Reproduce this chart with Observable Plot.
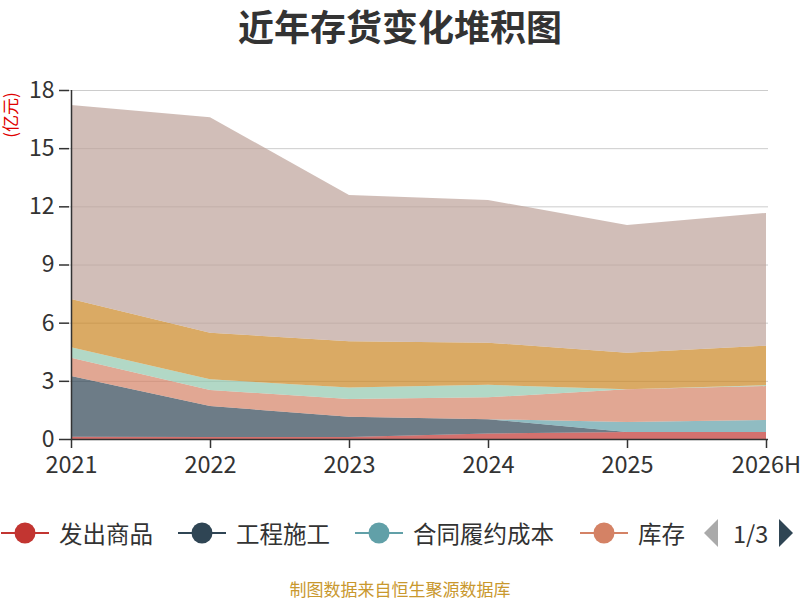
<!DOCTYPE html>
<html>
<head>
<meta charset="utf-8">
<script src="https://cdn.jsdelivr.net/npm/d3@7"></script>
<script src="https://cdn.jsdelivr.net/npm/@observablehq/plot@0.6"></script>
<style>
  html, body { margin: 0; padding: 0; background: #fff; }
  #wrap { position: relative; width: 800px; height: 600px; overflow: hidden; font-family: "Noto Sans CJK SC", "Noto Sans", sans-serif; color: #333; }
  #title { position: absolute; top: 0px; left: 0; width: 800px; text-align: center; font-size: 36px; font-weight: bold; color: #333; line-height: 50px; }
  #chart { position: absolute; top: 50px; left: 0; }
  #ylabel { position: absolute; left: -20px; top: 106px; transform: rotate(-90deg); transform-origin: center; font-size: 17px; color: #e00000; width: 60px; text-align: center; line-height: 18px; }
  .leg { position: absolute; top: 518px; height: 30px; display: flex; align-items: center; font-size: 23.5px; color: #333; white-space: nowrap; }
  .leg svg { margin-right: 10px; }
  #caption { position: absolute; top: 579px; left: 0; width: 800px; text-align: center; font-size: 17px; line-height: 20px; color: #c9982e; }
</style>
</head>
<body>
<div id="wrap">
  <div id="title">近年存货变化堆积图</div>
  <div id="ylabel">(亿元)</div>
  <div id="chart"></div>
  <div id="legend"></div>
  <div id="caption">制图数据来自恒生聚源数据库</div>
</div>
<script>
const years = ["2021", "2022", "2023", "2024", "2025", "2026H"];
const seriesNames = ["发出商品", "工程施工", "合同履约成本", "库存", "原材料", "在产品", "库存商品", "其他"];
const colors = ["#c23531", "#2f4554", "#61a0a8", "#d48265", "#91c7ae", "#749f83", "#ca8622", "#bda29a"];
const yTicks = [0, 3, 6, 9, 12, 15, 18];

const fachushangpin   = [0.12, 0.10, 0.10, 0.28, 0.36, 0.36];
const gongchengshigong = [3.13, 1.60, 1.05, 0.74, 0.00, 0.00];
const hetonglvyue     = [0.00, 0.00, 0.00, 0.00, 0.52, 0.62];
const kucun           = [0.94, 0.83, 0.91, 1.13, 1.68, 1.75];
const yuancailiao     = [0.54, 0.55, 0.59, 0.65, 0.00, 0.05];
const zaichanpin      = [0.00, 0.00, 0.00, 0.00, 0.00, 0.00];
const kucunshangpin   = [2.49, 2.40, 2.39, 2.17, 1.89, 2.03];
const qita            = [10.01, 11.12, 7.54, 7.36, 6.59, 6.85];

const seriesValues = [fachushangpin, gongchengshigong, hetonglvyue, kucun, yuancailiao, zaichanpin, kucunshangpin, qita];

const rows = [];
seriesNames.forEach((name, i) => {
  years.forEach((yr, j) => rows.push({ year: yr, series: name, value: seriesValues[i][j] }));
});

const chart = Plot.plot({
  width: 800,
  height: 430,
  marginTop: 40,
  marginBottom: 41,
  marginLeft: 69,
  marginRight: 32,
  style: { fontFamily: '"Noto Sans CJK SC", "Noto Sans", sans-serif', background: "transparent", color: "#333" },
  x: { type: "point", domain: years, padding: 0, label: null },
  y: { domain: [0, 18], label: null },
  color: { domain: seriesNames, range: colors },
  marks: [
    Plot.gridY(yTicks, { stroke: "#cccccc", strokeOpacity: 1, strokeWidth: 1 }),
    Plot.areaY(rows, { x: "year", y: "value", fill: "series", fillOpacity: 0.7, order: seriesNames, curve: "linear" }),
    Plot.ruleY([0], { stroke: "#333", strokeWidth: 1.5 }),
    Plot.ruleX([years[0]], { stroke: "#333", strokeWidth: 1.5 }),
    Plot.axisY(yTicks, { tickSize: 10, tickPadding: 5, fontSize: 23, fill: "#333", stroke: "#333", strokeWidth: 1.5, label: null }),
    Plot.axisX({ tickSize: 9, tickPadding: 8, fontSize: 23.5, fill: "#333", stroke: "#333", strokeWidth: 1.5, label: null })
  ]
});
document.getElementById("chart").appendChild(chart);

// legend (page 1 of 3)
const legendLefts = [1, 178, 355, 580];
const legend = document.getElementById("legend");
seriesNames.slice(0, 4).forEach((name, i) => {
  const d = document.createElement("div");
  d.className = "leg";
  d.style.left = legendLefts[i] + "px";
  const c = colors[i];
  d.innerHTML = `<svg width="48" height="24"><line x1="0" y1="12" x2="48" y2="12" stroke="${c}" stroke-width="2"/><circle cx="24" cy="12" r="10.5" fill="${c}"/></svg><span>${name}</span>`;
  legend.appendChild(d);
});
const pager = document.createElement("div");
pager.className = "leg";
pager.style.left = "702px";
pager.innerHTML = `<svg width="18" height="30"><polygon points="16,1 16,29 2,15" fill="#aaaaaa"/></svg><span style="margin-left:3px;margin-right:10px">1/3</span><svg width="18" height="30"><polygon points="1,1 1,29 15,15" fill="#2f4554"/></svg>`;
legend.appendChild(pager);
</script>
</body>
</html>
